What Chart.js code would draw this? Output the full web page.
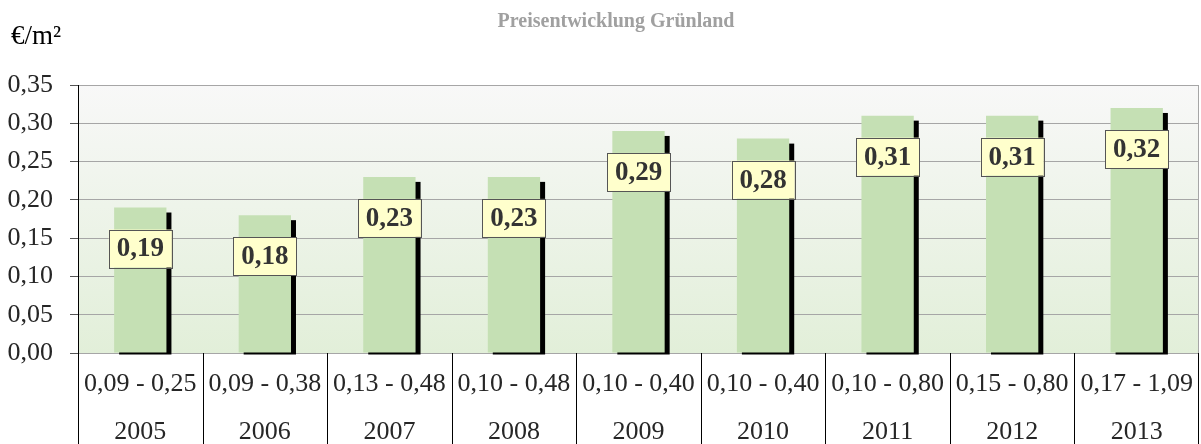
<!DOCTYPE html>
<html>
<head>
<meta charset="utf-8">
<script src="https://cdn.jsdelivr.net/npm/chart.js@4"></script>
<style>
  body { margin: 0; background: #fff; }
  #wrap { width: 1201px; height: 444px; }
</style>
</head>
<body>
<div id="wrap"><canvas id="chart" width="1201" height="444"></canvas></div>
<script>
const jahre = ["2005", "2006", "2007", "2008", "2009", "2010", "2011", "2012", "2013"];
const spannen = ["0,09 - 0,25", "0,09 - 0,38", "0,13 - 0,48", "0,10 - 0,48", "0,10 - 0,40",
                 "0,10 - 0,40", "0,10 - 0,80", "0,15 - 0,80", "0,17 - 1,09"];
const preise = [0.19, 0.18, 0.23, 0.23, 0.29, 0.28, 0.31, 0.31, 0.32];

const fmt = v => v.toFixed(2).replace(".", ",");
const serif = "'Liberation Serif', 'Times New Roman', serif";

// Hintergrund der Zeichenfläche (Verlauf) + Rahmen
const hintergrund = {
    id: "hintergrund",
    beforeDraw(chart) {
        const { ctx, chartArea: a } = chart;
        const g = ctx.createLinearGradient(0, a.top, 0, a.bottom);
        g.addColorStop(0, "#f8f8f8");
        g.addColorStop(1, "#e2efd9");
        ctx.save();
        ctx.fillStyle = g;
        ctx.fillRect(a.left, a.top, a.right - a.left, a.bottom - a.top);
        ctx.restore();
    },
    afterDraw(chart) {
        const { ctx, chartArea: a } = chart;
        ctx.save();
        ctx.strokeStyle = "#a6a6a6";
        ctx.lineWidth = 1;
        ctx.beginPath();
        ctx.moveTo(a.right - 0.5, a.top);
        ctx.lineTo(a.right - 0.5, a.bottom);
        ctx.stroke();
        // Tabellenlinien unter der Achse
        const x = chart.scales.x;
        const n = jahre.length;
        const breite = (a.right - a.left) / n;
        ctx.strokeStyle = "#000";
        ctx.beginPath();
        for (let i = 0; i <= n; i++) {
            const px = Math.round(x.getPixelForValue(i) - breite / 2) + 0.5;
            ctx.moveTo(Math.min(px, a.right - 0.5), a.bottom);
            ctx.lineTo(Math.min(px, a.right - 0.5), chart.height);
        }
        ctx.stroke();
        // Titel und Einheit
        ctx.textBaseline = "middle";
        ctx.textAlign = "center";
        ctx.fillStyle = "#a0a0a0";
        ctx.font = "bold 20px " + serif;
        ctx.fillText("Preisentwicklung Grünland", 616, 22);
        ctx.textAlign = "left";
        ctx.fillStyle = "#000";
        ctx.font = "27px " + serif;
        ctx.fillText("€/m²", 11, 37);
        ctx.restore();
    }
};

// Schatten rechts neben den Säulen
const schatten = {
    id: "schatten",
    beforeDatasetsDraw(chart) {
        const { ctx } = chart;
        ctx.save();
        ctx.fillStyle = "#000";
        chart.getDatasetMeta(0).data.forEach(bar => {
            const l = bar.x - bar.width / 2 + 5;
            ctx.fillRect(l, bar.y + 5, bar.width, bar.base - bar.y - 3);
        });
        ctx.restore();
    }
};

// Datenbeschriftungen
const beschriftung = {
    id: "beschriftung",
    afterDatasetsDraw(chart) {
        const { ctx } = chart;
        ctx.save();
        ctx.font = "bold 27px " + serif;
        ctx.textAlign = "center";
        ctx.textBaseline = "middle";
        chart.getDatasetMeta(0).data.forEach((bar, i) => {
            const w = 63, h = 38;
            const cx = bar.x, cy = bar.y + 41;
            ctx.fillStyle = "#ffffcc";
            ctx.fillRect(cx - w / 2, cy - h / 2, w, h);
            ctx.strokeStyle = "#555";
            ctx.lineWidth = 1;
            ctx.strokeRect(Math.round(cx - w / 2) + 0.5, Math.round(cy - h / 2) + 0.5, w, h);
            ctx.fillStyle = "#333";
            ctx.fillText(fmt(preise[i]), cx, cy + 1);
        });
        ctx.restore();
    }
};

const config = {
    type: "bar",
    data: {
        labels: jahre.map((j, i) => [spannen[i], j]),
        datasets: [{
            label: "Preis",
            data: preise,
            backgroundColor: "#c5e0b4",
            borderWidth: 0,
            barPercentage: 0.42,
            categoryPercentage: 1
        }]
    },
    options: {
        responsive: false,
        animation: false,
        layout: { padding: { top: 85, right: 2, left: 0, bottom: 0 } },
        plugins: { legend: { display: false }, tooltip: { enabled: false } },
        scales: {
            x: {
                grid: { display: false, drawTicks: false },
                border: { display: false },
                ticks: {
                    color: "#262626",
                    padding: 7,
                    maxRotation: 0,
                    autoSkip: false,
                    font: { family: serif, size: 26, lineHeight: 1.85 }
                },
                afterFit: s => { s.height = 91; }
            },
            y: {
                min: 0,
                max: 0.35,
                ticks: {
                    stepSize: 0.05,
                    color: "#262626",
                    padding: 17,
                    font: { family: serif, size: 26 },
                    callback: v => fmt(v)
                },
                grid: { color: "#a6a6a6", tickColor: "#555", tickLength: 8 },
                border: { color: "#000", width: 1 },
                afterFit: s => { s.width = 78; }
            }
        }
    },
    plugins: [hintergrund, schatten, beschriftung]
};

const chart = new Chart(document.getElementById("chart").getContext("2d"), config);
</script>
</body>
</html>
